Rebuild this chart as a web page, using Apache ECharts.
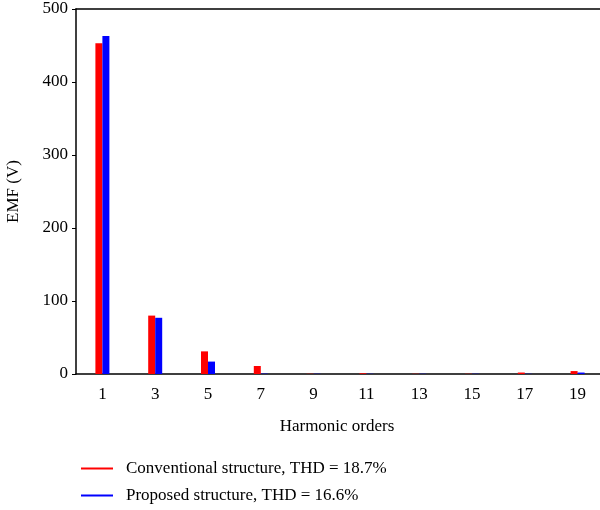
<!DOCTYPE html><html><head><meta charset="utf-8"><script src="https://cdn.jsdelivr.net/npm/echarts@6/dist/echarts.min.js"></script></head><body style="margin:0"><div id="c" style="width:600px;height:510px"></div><script>
var categories=['1','3','5','7','9','11','13','15','17','19'];
var conventional=[453,80,31,11,0.3,1,0.3,0.3,2,4];
var proposed=[463,77,17,0.5,0.3,0.3,0.3,0.3,0.3,2];
var names=['Conventional structure, THD = 18.7%','Proposed structure, THD = 16.6%'];
var F='Liberation Serif';
var ch=echarts.init(document.getElementById('c'));
function lg(i,top){return {data:[names[i]],left:76,top:top,itemWidth:32,itemHeight:2,icon:'rect',
  textStyle:{fontSize:17,fontFamily:F,color:'#000',padding:[0,0,0,8]}};}
ch.setOption({
 animation:false,
 textStyle:{fontFamily:F},
 grid:{left:76,top:9,width:528,height:365,containLabel:false,outerBoundsMode:'none'},
 xAxis:[{type:'category',data:categories,axisTick:{show:false},axisLine:{lineStyle:{color:'#000',width:1.5}},
  axisLabel:{color:'#000',fontSize:17,fontFamily:F,margin:12},
  name:'Harmonic orders',nameLocation:'middle',nameGap:44,nameTextStyle:{color:'#000',fontSize:17,fontFamily:F,padding:[0,0,0,-6]}},
  {type:'category',data:categories,position:'top',axisTick:{show:false},axisLabel:{show:false},axisLine:{lineStyle:{color:'#000',width:1.5}}}],
 yAxis:{type:'value',min:0,max:500,interval:100,splitLine:{show:false},
  axisLine:{show:true,lineStyle:{color:'#000',width:1.5}},axisTick:{show:true,length:4,lineStyle:{color:'#000'}},
  axisLabel:{color:'#000',fontSize:17,fontFamily:F,margin:8},
  name:'EMF (V)',nameLocation:'middle',nameGap:54,nameTextStyle:{color:'#000',fontSize:17,fontFamily:F}},
 legend:[lg(0,455),lg(1,482)],
 series:[
  {name:names[0],type:'bar',data:conventional,barWidth:7,barGap:'0%',itemStyle:{color:'#ff0000'}},
  {name:names[1],type:'bar',data:proposed,barWidth:7,itemStyle:{color:'#0000ff'}}
 ]
});
</script></body></html>
